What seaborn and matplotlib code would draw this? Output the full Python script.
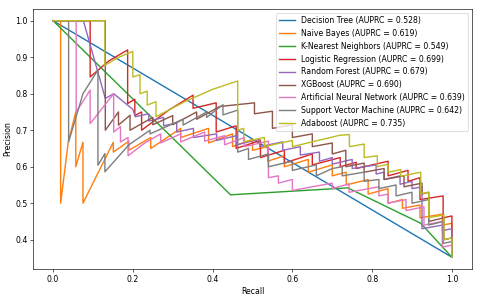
import pandas as pd
import numpy as np
import seaborn as sns
import matplotlib.pyplot as plt

# model names and scores, in legend order
models = ["Decision Tree", "Naive Bayes", "K-Nearest Neighbors", "Logistic Regression",
          "Random Forest", "XGBoost", "Artificial Neural Network",
          "Support Vector Machine", "Adaboost"]
auprc = [0.528, 0.619, 0.549, 0.699, 0.679, 0.690, 0.639, 0.642, 0.735]

# precision-recall points
dt_recall = [0.0, 1.0]
dt_precision = [1.0, 0.352]

nb_recall = [0.0, 0.019, 0.019, 0.038, 0.057, 0.057, 0.075, 0.075,
             0.151, 0.151, 0.19, 0.19, 0.245, 0.245, 0.32, 0.32,
             0.39, 0.39, 0.45, 0.45, 0.50, 0.50, 0.538, 0.538,
             0.58, 0.58, 0.64, 0.64, 0.70, 0.70, 0.735, 0.735,
             0.79, 0.79, 0.84, 0.84, 0.876, 0.876, 0.92, 0.92,
             0.976, 0.976, 1.0, 1.0]
nb_precision = [1.0, 1.0, 0.5, 0.667, 0.75, 0.6, 0.667, 0.5,
                0.667, 0.64, 0.67, 0.645, 0.68, 0.65, 0.705, 0.68,
                0.705, 0.665, 0.69, 0.655, 0.675, 0.645, 0.655, 0.615,
                0.63, 0.60, 0.62, 0.585, 0.605, 0.575, 0.585, 0.55,
                0.565, 0.525, 0.54, 0.50, 0.51, 0.486, 0.495, 0.46,
                0.47, 0.44, 0.445, 0.352]

knn_recall = [0.0, 0.445, 0.739, 0.922, 1.0]
knn_precision = [1.0, 0.523, 0.542, 0.445, 0.352]

lr_recall = [0.0, 0.093, 0.093, 0.14, 0.187, 0.187, 0.205, 0.205,
             0.222, 0.222, 0.29, 0.351, 0.351, 0.409, 0.409, 0.459,
             0.459, 0.52, 0.52, 0.58, 0.58, 0.65, 0.65, 0.72,
             0.72, 0.76, 0.76, 0.84, 0.84, 0.89, 0.89, 0.92,
             0.92, 0.978, 0.978, 1.0, 1.0]
lr_precision = [1.0, 1.0, 0.846, 0.89, 0.92, 0.773, 0.785, 0.74,
                0.75, 0.70, 0.755, 0.796, 0.76, 0.775, 0.695, 0.712,
                0.65, 0.672, 0.625, 0.645, 0.61, 0.635, 0.605, 0.625,
                0.60, 0.612, 0.595, 0.615, 0.575, 0.59, 0.56, 0.57,
                0.51, 0.52, 0.46, 0.465, 0.352]

rf_recall = [0.0, 0.076, 0.131, 0.152, 0.2, 0.206,
             0.24, 0.24, 0.277, 0.277, 0.31, 0.31, 0.352, 0.352,
             0.41, 0.41, 0.46, 0.46, 0.518, 0.518, 0.576, 0.576,
             0.62, 0.62, 0.668, 0.668, 0.70, 0.70, 0.75, 0.75,
             0.81, 0.81, 0.83, 0.83, 0.87, 0.87, 0.90, 0.90,
             0.925, 0.925, 0.976, 0.976, 1.0, 1.0]
rf_precision = [1.0, 1.0, 0.787, 0.80, 0.757, 0.737,
                0.745, 0.725, 0.735, 0.712, 0.72, 0.695, 0.705, 0.68,
                0.69, 0.672, 0.685, 0.66, 0.675, 0.655, 0.668, 0.645,
                0.655, 0.632, 0.64, 0.615, 0.625, 0.607, 0.62, 0.595,
                0.605, 0.58, 0.585, 0.565, 0.575, 0.552, 0.56, 0.54,
                0.545, 0.43, 0.44, 0.425, 0.43, 0.352]

xgb_recall = [0.0, 0.131, 0.131, 0.164, 0.164, 0.193, 0.193,
              0.25, 0.25, 0.30, 0.30, 0.36, 0.36, 0.418, 0.505,
              0.505, 0.55, 0.55, 0.60, 0.60, 0.65, 0.65, 0.70,
              0.70, 0.734, 0.734, 0.78, 0.78, 0.83, 0.83, 0.88,
              0.88, 0.925, 0.925, 0.942, 0.942, 0.98, 0.98, 1.0, 1.0]
xgb_precision = [1.0, 1.0, 0.70, 0.75, 0.714, 0.741, 0.70,
                 0.735, 0.715, 0.74, 0.715, 0.75, 0.73, 0.765, 0.775,
                 0.745, 0.752, 0.705, 0.715, 0.68, 0.69, 0.655, 0.665,
                 0.635, 0.645, 0.60, 0.61, 0.585, 0.595, 0.565, 0.575,
                 0.545, 0.555, 0.525, 0.53, 0.45, 0.46, 0.40, 0.405, 0.352]

ann_recall = [0.0, 0.058, 0.058, 0.093, 0.093, 0.152, 0.152, 0.169,
              0.169, 0.188, 0.188, 0.23, 0.27, 0.27, 0.32, 0.32,
              0.38, 0.38, 0.43, 0.43, 0.48, 0.48, 0.54, 0.54,
              0.565, 0.565, 0.60, 0.60, 0.70, 0.70, 0.742, 0.742,
              0.817, 0.817, 0.84, 0.84, 0.885, 0.885, 0.93, 0.93,
              0.976, 0.976, 1.0, 1.0]
ann_precision = [1.0, 1.0, 0.75, 0.81, 0.718, 0.80, 0.695, 0.71,
                 0.668, 0.68, 0.63, 0.665, 0.69, 0.665, 0.69, 0.668,
                 0.695, 0.67, 0.685, 0.66, 0.68, 0.655, 0.67, 0.57,
                 0.575, 0.555, 0.565, 0.535, 0.555, 0.54, 0.553, 0.53,
                 0.545, 0.52, 0.525, 0.50, 0.51, 0.48, 0.49, 0.44,
                 0.45, 0.38, 0.385, 0.352]

svm_recall = [0.0, 0.039, 0.039, 0.075, 0.1125, 0.1125, 0.13, 0.13,
              0.19, 0.243, 0.243, 0.326, 0.326, 0.385, 0.385, 0.426,
              0.426, 0.463, 0.463, 0.49, 0.49, 0.54, 0.54, 0.60,
              0.60, 0.66, 0.66, 0.70, 0.725, 0.725, 0.78, 0.78,
              0.817, 0.817, 0.86, 0.86, 0.90, 0.90, 0.942, 0.942,
              0.978, 0.978, 1.0, 1.0]
svm_precision = [1.0, 1.0, 0.668, 0.80, 0.865, 0.604, 0.636, 0.586,
                 0.66, 0.70, 0.69, 0.73, 0.714, 0.75, 0.735, 0.77,
                 0.742, 0.755, 0.64, 0.65, 0.62, 0.635, 0.60, 0.615,
                 0.59, 0.605, 0.575, 0.595, 0.60, 0.575, 0.585, 0.56,
                 0.565, 0.54, 0.55, 0.52, 0.53, 0.50, 0.51, 0.44,
                 0.45, 0.39, 0.395, 0.352]

ada_recall = [0.0, 0.13, 0.13, 0.165, 0.2, 0.2, 0.218, 0.218,
              0.236, 0.236, 0.258, 0.258, 0.33, 0.40, 0.463, 0.463,
              0.478, 0.478, 0.53, 0.53, 0.60, 0.60, 0.718, 0.743,
              0.743, 0.78, 0.78, 0.813, 0.813, 0.84, 0.84, 0.872,
              0.872, 0.922, 0.922, 0.942, 0.942, 0.98, 0.98, 1.0, 1.0]
ada_precision = [1.0, 1.0, 0.878, 0.90, 0.916, 0.846, 0.852, 0.80,
                 0.807, 0.769, 0.778, 0.737, 0.778, 0.812, 0.835, 0.70,
                 0.705, 0.668, 0.68, 0.655, 0.672, 0.655, 0.686, 0.688,
                 0.655, 0.662, 0.625, 0.63, 0.60, 0.607, 0.585, 0.592,
                 0.574, 0.585, 0.526, 0.53, 0.46, 0.468, 0.40, 0.405, 0.352]

curves = [(dt_recall, dt_precision), (nb_recall, nb_precision),
          (knn_recall, knn_precision), (lr_recall, lr_precision),
          (rf_recall, rf_precision), (xgb_recall, xgb_precision),
          (ann_recall, ann_precision), (svm_recall, svm_precision),
          (ada_recall, ada_precision)]

frames = []
for name, score, (rec, prec) in zip(models, auprc, curves):
    label = f"{name} (AUPRC = {score:.3f})"
    frames.append(pd.DataFrame({"Recall": rec, "Precision": prec, "Model": label}))
df = pd.concat(frames, ignore_index=True)

fig, ax = plt.subplots(figsize=(480 / 56, 296 / 56), dpi=56)
sns.lineplot(data=df, x="Recall", y="Precision", hue="Model", palette="tab10",
             sort=False, estimator=None, linewidth=1.8, ax=ax)
sns.move_legend(ax, "upper right", title=None)
fig.subplots_adjust(left=0.069, right=0.983, bottom=0.091, top=0.970)
fig.savefig("out.png", dpi=56)
